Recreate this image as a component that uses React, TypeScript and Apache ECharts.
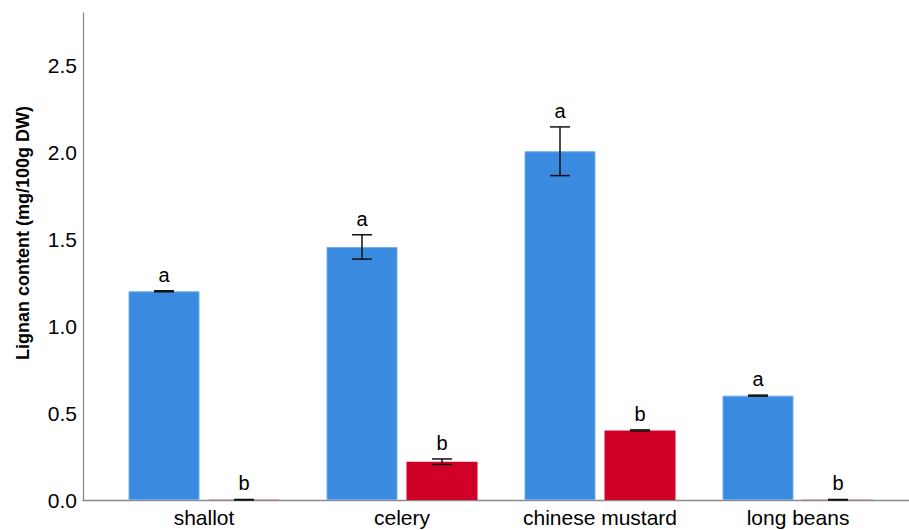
import React, { useEffect, useRef } from "react";
import * as echarts from "echarts";

const categories = ["shallot", "celery", "chinese mustard", "long beans"];
const blueMeans = [1.2, 1.455, 2.005, 0.6];
const blueErrors = [0.003, 0.07, 0.14, 0.003];
const blueLetters = ["a", "a", "a", "a"];
const redMeans = [0.001, 0.22, 0.4, 0.001];
const redErrors = [0.002, 0.016, 0.003, 0.002];
const redLetters = ["b", "b", "b", "b"];
const yTicks = [0, 0.5, 1.0, 1.5, 2.0, 2.5];
const yTitle = "Lignan content (mg/100g DW)";

const FONT = 'Arial, "Liberation Sans", sans-serif';
const BAR_W = 71;
const GAP = 9;
const Y_MAX = 2.8;

function errorSeries(means: number[], errs: number[], letters: string[], offset: number) {
  return {
    type: "custom",
    xAxisIndex: 1,
    yAxisIndex: 1,
    z: 10,
    data: means.map((m, i) => [i, m, errs[i]]),
    renderItem: (params: any, api: any) => {
      const i = api.value(0);
      const m = api.value(1);
      const e = api.value(2);
      const c = api.coord([i, m]);
      const x = c[0] + offset;
      const yTop = api.coord([i, m + e])[1];
      const yBot = api.coord([i, Math.max(0, m - e)])[1];
      const stroke = { stroke: "#111", lineWidth: 1.5 };
      return {
        type: "group",
        children: [
          { type: "line", shape: { x1: x, y1: yTop, x2: x, y2: yBot }, style: stroke },
          { type: "line", shape: { x1: x - 10, y1: yTop, x2: x + 10, y2: yTop }, style: stroke },
          { type: "line", shape: { x1: x - 10, y1: yBot, x2: x + 10, y2: yBot }, style: stroke },
          {
            type: "text",
            x: x,
            y: yTop - 6,
            style: {
              text: letters[params.dataIndex],
              fill: "#000",
              font: `20px ${FONT}`,
              textAlign: "center",
              textVerticalAlign: "bottom",
            },
          },
        ],
      };
    },
  };
}

export default function App() {
  const ref = useRef<HTMLDivElement>(null);
  useEffect(() => {
    if (!ref.current) return;
    const chart = echarts.init(ref.current, null, { renderer: "svg" });
    const yCommon = { type: "value", min: 0, max: Y_MAX, interval: 0.5 };
    chart.setOption({
      animation: false,
      backgroundColor: "#fff",
      grid: [
        { left: 83, right: 0, top: 13, bottom: 30 },
        { left: 105, right: 12, top: 13, bottom: 30 },
      ],
      xAxis: [
        {
          gridIndex: 0,
          type: "value",
          min: 0,
          max: 1,
          axisLine: { show: true, lineStyle: { color: "#8a8a8a", width: 1.3 } },
          axisTick: { show: false },
          axisLabel: { show: false },
          splitLine: { show: false },
        },
        {
          gridIndex: 1,
          type: "category",
          data: categories,
          axisLine: { show: false },
          axisTick: { show: false },
          axisLabel: { color: "#000", fontSize: 21, fontFamily: FONT, margin: 7, interval: 0, hideOverlap: false },
          splitLine: { show: false },
        },
      ],
      yAxis: [
        {
          ...yCommon,
          gridIndex: 0,
          axisLine: { show: true, lineStyle: { color: "#8a8a8a", width: 1.3 } },
          axisTick: { show: false },
          splitLine: { show: false },
          axisLabel: {
            color: "#000",
            fontSize: 21,
            fontFamily: FONT,
            margin: 6,
            showMaxLabel: false,
            formatter: (v: number) =>
              yTicks.some((t) => Math.abs(t - v) < 1e-6) ? v.toFixed(1) : "",
          },
        },
        {
          ...yCommon,
          gridIndex: 1,
          show: false,
          splitLine: { show: false },
        },
      ],
      graphic: [
        {
          type: "text",
          x: 23,
          y: 233,
          rotation: Math.PI / 2,
          style: {
            text: yTitle,
            fill: "#000",
            font: `bold 18px ${FONT}`,
            textAlign: "center",
            textVerticalAlign: "middle",
          },
        },
      ],
      series: [
        {
          type: "bar",
          xAxisIndex: 1,
          yAxisIndex: 1,
          data: blueMeans,
          barWidth: BAR_W,
          barGap: `${(GAP / BAR_W) * 100}%`,
          itemStyle: { color: "#3A8BE0", borderColor: "#6FAEEE", borderWidth: 1 },
        },
        {
          type: "bar",
          xAxisIndex: 1,
          yAxisIndex: 1,
          data: redMeans,
          barWidth: BAR_W,
          barGap: `${(GAP / BAR_W) * 100}%`,
          itemStyle: { color: "#D00028", borderWidth: 0 },
        },
        errorSeries(blueMeans, blueErrors, blueLetters, -(BAR_W + GAP) / 2),
        errorSeries(redMeans, redErrors, redLetters, (BAR_W + GAP) / 2),
      ],
    });
    return () => chart.dispose();
  }, []);
  return (
    <div
      ref={ref}
      style={{ position: "fixed", left: 0, top: 0, width: 909, height: 530, background: "#fff" }}
    />
  );
}
